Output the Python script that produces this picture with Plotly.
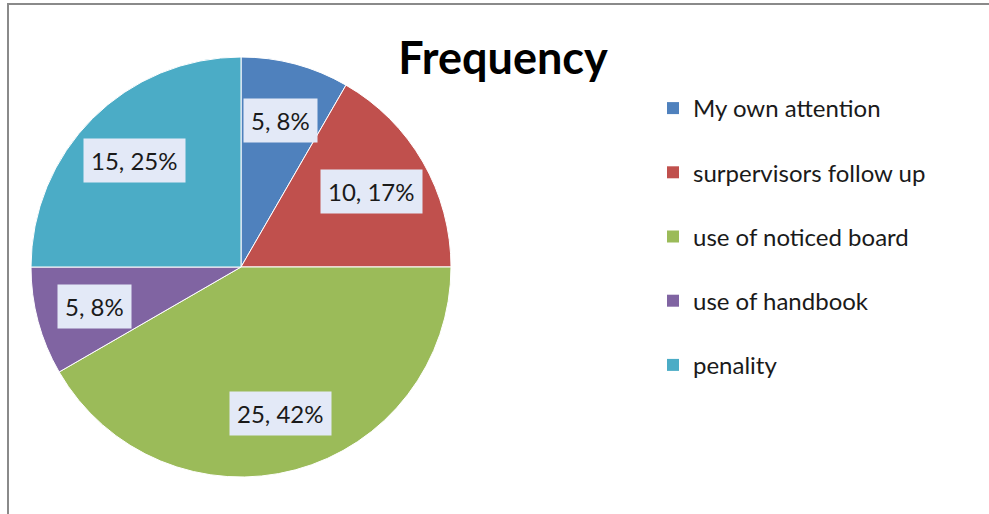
import math
import plotly.graph_objects as go

categories = ["My own attention", "surpervisors follow up", "use of noticed board",
              "use of handbook", "penality"]
values = [5, 10, 25, 5, 15]
colors = ["#4F81BD", "#C0504D", "#9BBB59", "#8064A2", "#4BACC6"]

W, H = 989, 514
CX, CY, R = 241, 267, 210  # pie center / radius in px
FONT = "Lato"

fig = go.Figure()
fig.add_trace(go.Pie(
    labels=categories, values=values, sort=False, direction="clockwise", rotation=0,
    marker=dict(colors=colors, line=dict(color="#ffffff", width=1)),
    textinfo="none", hoverinfo="label+value+percent", showlegend=False,
    domain=dict(x=[(CX - R) / W, (CX + R) / W], y=[1 - (CY + R) / H, 1 - (CY - R) / H]),
))

# legend entries (separate groups to reproduce spacing)
for i, (c, col) in enumerate(zip(categories, colors)):
    fig.add_trace(go.Scatter(x=[None], y=[None], mode="markers", name=c,
                             legendgroup=f"g{i}",
                             marker=dict(symbol="square", size=12, color=col)))

# data labels
total = sum(values)
cum = 0
for v in values:
    mid = (cum + v / 2) / total * 2 * math.pi
    cum += v
    rr = 0.72 * R
    px = CX + rr * math.sin(mid)
    py = CY - rr * math.cos(mid)
    fig.add_annotation(x=px / W, y=1 - py / H, xref="paper", yref="paper",
                       xanchor="center", yanchor="middle",
                       text=f"{v}, {round(v / total * 100)}%", showarrow=False,
                       font=dict(family=FONT, size=24, color="#1a1a1a"),
                       bgcolor="#e3e9f7", borderpad=7)

fig.add_shape(type="rect", xref="paper", yref="paper",
              x0=8 / W, x1=1.02, y0=-0.02, y1=1 - 4 / H,
              line=dict(color="#8a8a8a", width=2), fillcolor="rgba(0,0,0,0)", layer="above")

fig.update_layout(
    width=W, height=H, margin=dict(l=0, r=0, t=0, b=0),
    paper_bgcolor="white", plot_bgcolor="white",
    title=dict(text="<b>Frequency</b>", x=503 / W, xanchor="center",
               y=1 - 58 / H, yanchor="middle",
               font=dict(family=FONT, size=45, color="black")),
    xaxis=dict(visible=False), yaxis=dict(visible=False),
    legend=dict(x=653 / W, y=1 - 86 / H, xanchor="left", yanchor="top",
                font=dict(family=FONT, size=24, color="#1a1a1a"),
                tracegroupgap=30, itemclick=False),
)
fig.write_html("out.html")
